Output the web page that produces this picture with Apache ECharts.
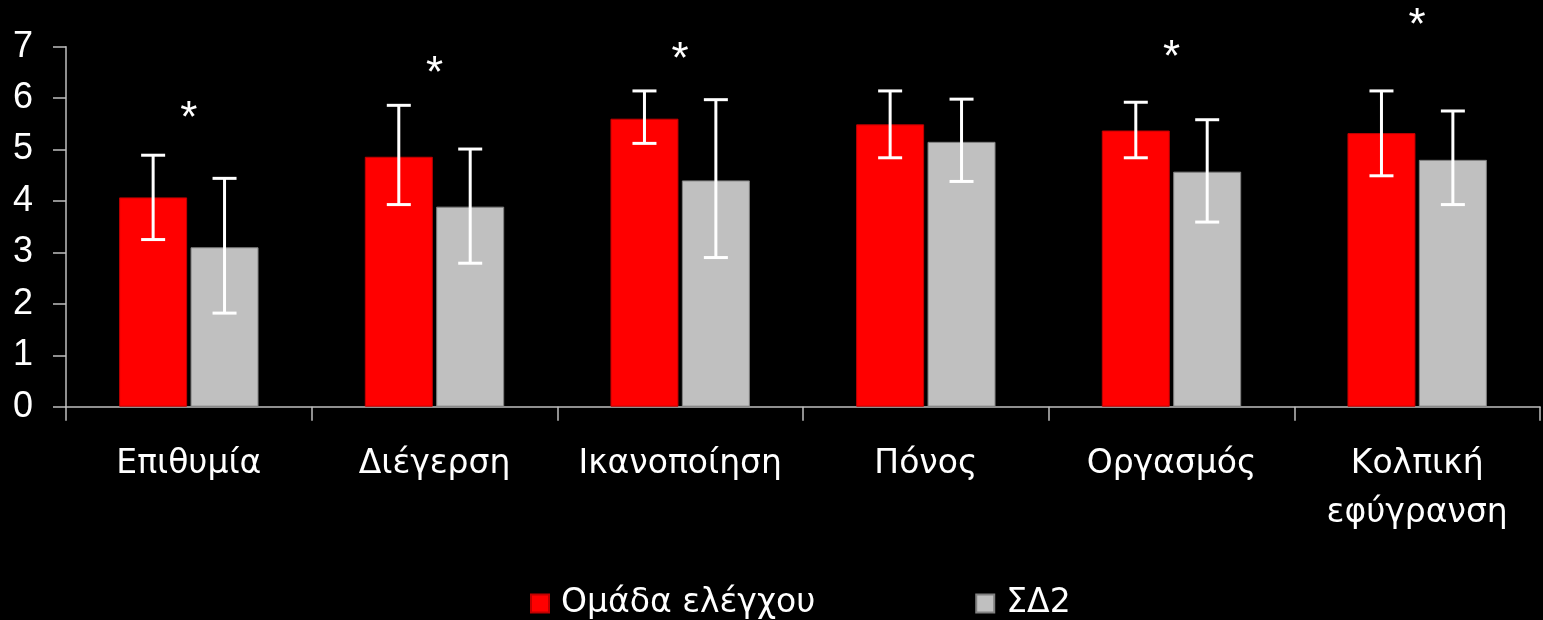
<!DOCTYPE html>
<html>
<head>
<meta charset="utf-8">
<title>Ομάδα ελέγχου vs ΣΔ2</title>
<script src="https://cdn.jsdelivr.net/npm/echarts@6/dist/echarts.min.js"></script>
<style>
  html, body { margin: 0; padding: 0; background: #000; }
  #chart { width: 1543px; height: 620px; }
</style>
</head>
<body>
<div id="chart"></div>
<script>
// Category labels and tick values
const categories = ['Επιθυμία', 'Διέγερση', 'Ικανοποίηση', 'Πόνος', 'Οργασμός', 'Κολπική\nεφύγρανση'];
const yTicks = [0, 1, 2, 3, 4, 5, 6, 7];

// Group means with error-bar ranges
const controlMean = [4.07, 4.86, 5.60, 5.49, 5.37, 5.32];
const controlLow  = [3.25, 3.93, 5.12, 4.84, 4.84, 4.49];
const controlHigh = [4.89, 5.86, 6.14, 6.14, 5.92, 6.14];

const sd2Mean = [3.10, 3.89, 4.40, 5.15, 4.57, 4.80];
const sd2Low  = [1.82, 2.79, 2.90, 4.38, 3.59, 3.93];
const sd2High = [4.44, 5.01, 5.97, 5.98, 5.58, 5.75];

// Height of the significance marker per category (null = not significant)
const starLevel = [5.77, 6.64, 6.92, null, 6.95, 7.57];

const seriesNames = ['Ομάδα ελέγχου', 'ΣΔ2'];

const NUM_FONT = '"Liberation Sans", Arial, sans-serif';
const TEXT_FONT = '"DejaVu Sans", Verdana, sans-serif';
const BAR_W = 68;
const BAR_GAP = 0.05;
const HALF_SHIFT = (BAR_W + BAR_W * BAR_GAP) / 2;

function errorData(low, high) {
  return categories.map((_, i) => [i, low[i], high[i]]);
}

function errorSeries(low, high, shift) {
  return {
    type: 'custom',
    z: 5,
    silent: true,
    data: errorData(low, high),
    encode: { x: 0, y: [1, 2] },
    renderItem: function (params, api) {
      const x = api.coord([api.value(0), 0])[0] + shift;
      const yLo = api.coord([api.value(0), api.value(1)])[1];
      const yHi = api.coord([api.value(0), api.value(2)])[1];
      const cap = 12;
      const style = { stroke: '#ffffff', lineWidth: 3 };
      return {
        type: 'group',
        children: [
          { type: 'line', shape: { x1: x, y1: yLo, x2: x, y2: yHi }, style: style },
          { type: 'line', shape: { x1: x - cap, y1: yHi, x2: x + cap, y2: yHi }, style: style },
          { type: 'line', shape: { x1: x - cap, y1: yLo, x2: x + cap, y2: yLo }, style: style }
        ]
      };
    }
  };
}

const starData = [];
starLevel.forEach((v, i) => { if (v !== null) starData.push([i, v]); });

const chart = echarts.init(document.getElementById('chart'), null, { renderer: 'canvas' });

chart.setOption({
  backgroundColor: '#000000',
  animation: false,
  textStyle: { fontFamily: NUM_FONT },
  grid: { left: 66, right: 3, top: 46.7, bottom: 213.3, containLabel: false },
  legend: {
    data: seriesNames,
    left: 530,
    top: 587,
    padding: 0,
    icon: 'rect',
    itemWidth: 18,
    itemHeight: 18,
    itemGap: 160,
    textStyle: { color: '#ffffff', fontSize: 33, fontFamily: TEXT_FONT, padding: [0, 0, 0, 7] }
  },
  xAxis: {
    type: 'category',
    data: categories,
    axisLine: { lineStyle: { color: '#bfbfbf', width: 1.5 } },
    axisTick: { show: true, length: 14, alignWithLabel: false, interval: 0, lineStyle: { color: '#bfbfbf', width: 1.5 } },
    axisLabel: { interval: 0, color: '#ffffff', fontSize: 33, lineHeight: 49, margin: 33, fontFamily: TEXT_FONT }
  },
  yAxis: {
    type: 'value',
    min: yTicks[0],
    max: yTicks[yTicks.length - 1],
    interval: 1,
    splitLine: { show: false },
    axisLine: { show: true, lineStyle: { color: '#bfbfbf', width: 1.5 } },
    axisTick: { show: true, length: 13, lineStyle: { color: '#bfbfbf', width: 1.5 } },
    axisLabel: { color: '#ffffff', fontSize: 36, margin: 33, fontFamily: NUM_FONT }
  },
  series: [
    {
      name: seriesNames[0],
      type: 'bar',
      data: controlMean,
      barWidth: BAR_W,
      barGap: (BAR_GAP * 100) + '%',
      itemStyle: { color: '#ff0000', borderColor: '#c00000', borderWidth: 1 }
    },
    {
      name: seriesNames[1],
      type: 'bar',
      data: sd2Mean,
      barWidth: BAR_W,
      itemStyle: { color: '#c0c0c0', borderColor: '#808080', borderWidth: 1 }
    },
    errorSeries(controlLow, controlHigh, -HALF_SHIFT),
    errorSeries(sd2Low, sd2High, HALF_SHIFT),
    {
      type: 'custom',
      z: 6,
      silent: true,
      clip: false,
      data: starData,
      encode: { x: 0, y: 1 },
      renderItem: function (params, api) {
        const p = api.coord([api.value(0), api.value(1)]);
        const fs = 44;
        return {
          type: 'text',
          x: p[0],
          y: p[1] + fs * 0.22,
          style: {
            text: '*',
            fill: '#ffffff',
            fontSize: fs,
            fontFamily: NUM_FONT,
            align: 'center',
            verticalAlign: 'middle'
          }
        };
      }
    }
  ]
});
</script>
</body>
</html>
